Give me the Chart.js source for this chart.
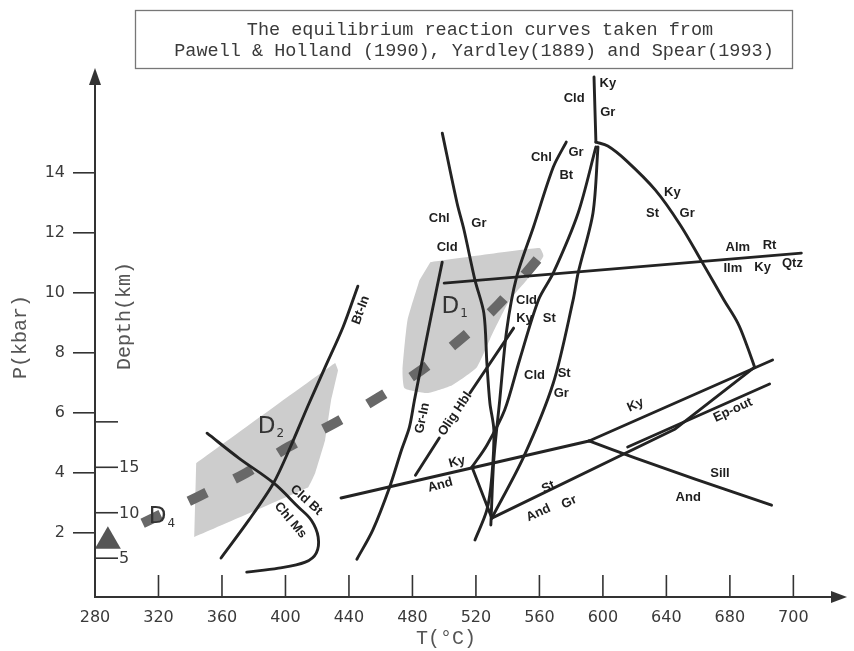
<!DOCTYPE html>
<html>
<head>
<meta charset="utf-8">
<script src="https://cdn.jsdelivr.net/npm/chart.js@4.4.1/dist/chart.umd.min.js"></script>
<style>
html,body{margin:0;padding:0;background:#fff;}
#wrap{width:854px;height:651px;}
</style>
</head>
<body>
<div id="wrap"><canvas id="c" width="854" height="651"></canvas></div>
<script>
// ---------- axis ticks ----------
const xTickValues = [280,320,360,400,440,480,520,560,600,640,680,720];
const xTickLabels = ['280','320','360','400','440','480','520','560','600','640','680','700'];
const pTicks = [2,4,6,8,10,12,14];
const depthTicks = [5,10,15,20];
const depthTickLabels = ['5','10','15',''];

// ---------- reaction curves (T °C, P kbar) ----------
const btIn       = [[359.4,1.17],[376.9,2.43],[392.5,3.67],[403.1,4.87],[414.4,6.27],[425,7.53],[436.3,8.87],[445.6,10.23]];
const cldBtChlMs = [[350.6,5.33],[370.6,4.5],[392.5,3.67],[408.1,2.87],[416.3,2.43],[420.6,1.87],[419.4,1.33],[412.5,1.03],[395.6,0.83],[375.6,0.7]];
const grIn       = [[445,1.13],[455,2.1],[465.6,3.53],[473.1,4.77],[478.1,5.53],[481.25,6.43],[485,7.43],[491.9,9.27],[498.75,11.03]];
const chlGrCld   = [[498.8,15.33],[508.1,13.0],[512.5,12.1],[519.4,10.43],[525,9.33],[526.9,7.67],[528.8,6.33],[531.3,5.43],[530,3.87],[526.9,2.77],[519.4,1.77]];
const chlGrBt    = [[576.9,15.03],[568.75,14.2],[556.25,12.2],[545.6,10.53],[539.4,8.77],[535,6.43],[531.25,4.43],[529.4,2.27]];
const cldKySt    = [[595.6,14.87],[584.4,12.67],[568.75,10.67],[559.4,9.77],[547.5,7.77],[538.1,6.1],[526.9,4.93],[517.5,4.2]];
const cldAndSt   = [[517.5,4.2],[530,2.5]];
const cldStGr    = [[596.9,14.87],[593.75,12.67],[584.4,10.67],[581.25,9.77],[568.75,7.0],[550,4.53],[530,2.5]];
const kyCldGr    = [[594.4,17.2],[595,16.1],[595.6,15.03]];
const kyStGr     = [[595.6,15.03],[603.1,14.9],[614.4,14.43],[633.1,13.43],[648.75,12.27],[662.5,11.03],[676.25,9.77],[685,9.0],[690.6,8.27],[695.6,7.53]];
const grail      = [[500,10.33],[725,11.33]];
const kyAnd      = [[435,3.17],[591.25,5.07]];
const kySill     = [[591.25,5.07],[706.9,7.77]];
const andSill    = [[591.25,5.07],[620.6,4.5],[658.1,3.8],[706.25,2.93]];
const stAndGr    = [[530,2.5],[645.6,5.47],[695.6,7.53]];
const epOut      = [[615.6,4.87],[705,6.97]];
const oligHblA   = [[481.9,3.93],[496.9,5.17]];
const oligHblB   = [[516.25,6.67],[543.75,8.83]];

// ---------- shaded deformation fields ----------
const d1Field = [[491.25,11.03],[560,11.5],[562.5,11.23],[551.9,10.43],[541.25,9.77],[530,8.6],[520.6,7.53],[505,6.93],[489.4,6.67],[475,6.83],[473.75,7.43],[476.9,9.1],[484.4,10.43]];
const d2Field = [[343.75,4.33],[431.25,7.67],[433.1,7.43],[428.75,6.43],[425,5.1],[418.75,4.0],[414.4,3.53],[342.5,1.87]];

// ---------- P-T path and start point ----------
const ptPath = [[310,2.33],[345.6,3.23],[375,4.0],[401.9,4.87],[431.25,5.67],[458.1,6.5],[485.6,7.43],[511.25,8.5],[534.4,9.63],[561.25,11.27]];
const startPoint = [[288.1,1.73]];

// ---------- text labels (text, T, P, rotation deg) ----------
const labelText = ['Ky','Cld','Gr','Chl','Gr','Bt','Ky','St','Gr','Alm','Rt','Ilm','Ky','Qtz','Chl','Gr','Cld','Cld','Ky','St','Cld','St','Gr','Olig Hbl','Ky','And','St','And','Gr','Ky','Ep-out','Sill','And','Bt-In','Gr-In','Cld Bt','Chl Ms'];
const labelT    = [603.1,581.9,603.1,561.25,583.1,576.9,643.75,631.25,653.1,685,705,681.9,700.6,719.4,496.9,521.9,501.9,551.9,550.6,566.25,556.9,575.6,573.75,506.9,508.1,497.5,565.6,559.4,578.75,620.6,681.9,673.75,653.75,447.5,486.25,413.1,403.1];
const labelP    = [17.0,16.5,16.03,14.53,14.67,13.93,13.37,12.67,12.67,11.53,11.6,10.83,10.87,11.0,12.5,12.33,11.53,9.77,9.17,9.17,7.27,7.33,6.67,5.97,4.37,3.6,3.53,2.67,3.03,6.27,6.1,4.0,3.2,9.43,5.83,3.1,2.43];
const labelRot  = [0,0,0,0,0,0,0,0,0,0,0,0,0,0,0,0,0,0,0,0,0,0,0,-56,-15,-15,-25,-25,-25,-25,-25,0,0,-70,-78,42,50];

const fieldNames = ['D','D','D'];
const fieldSubs  = ['1','2','4'];
const fieldT     = [506.9,391.25,322.5];
const fieldP     = [9.53,5.53,2.53];

const titleLines = ['The equilibrium reaction curves taken from','Pawell & Holland (1990), Yardley(1889) and Spear(1993)'];

// ---------- build datasets ----------
const LINE = '#232323';
const pts = a => a.map(([x,y]) => ({x, y}));
function curve(arr, tension){
  return {data: pts(arr), showLine:true, pointRadius:0, borderColor:LINE, borderWidth:2.9,
          tension: tension||0, fill:false, order:1, clip:false, borderCapStyle:'round', borderJoinStyle:'round'};
}
const datasets = [
  {data: pts(d1Field), showLine:true, pointRadius:0, borderWidth:0, borderColor:'rgba(0,0,0,0)', backgroundColor:'#cdcdcd', fill:'shape', tension:0.15, order:10},
  {data: pts(d2Field), showLine:true, pointRadius:0, borderWidth:0, borderColor:'rgba(0,0,0,0)', backgroundColor:'#cdcdcd', fill:'shape', tension:0.05, order:10},
  {data: pts(ptPath), showLine:true, pointRadius:0, borderColor:'#686868', borderWidth:10, borderDash:[20,31], borderCapStyle:'butt', tension:0.3, fill:false, order:5},
  curve(btIn,0.3), curve(cldBtChlMs,0.35), curve(grIn,0.3), curve(chlGrCld,0.3), curve(chlGrBt,0.3),
  curve(cldKySt,0.3), curve(cldAndSt), curve(cldStGr,0.3), curve(kyCldGr,0.2), curve(kyStGr,0.35),
  curve(grail), curve(kyAnd), curve(kySill), curve(andSill,0.3), curve(stAndGr), curve(epOut),
  curve(oligHblA), curve(oligHblB),
  {data: pts(startPoint), showLine:false, pointStyle:'triangle', pointRadius:15, pointBackgroundColor:'#555', pointBorderColor:'#555', pointBorderWidth:0, order:0, clip:false}
];

const deco = {
  id:'deco',
  afterDatasetsDraw(chart){
    const ctx = chart.ctx, xs = chart.scales.x, ys = chart.scales.y;
    ctx.save();
    ctx.fillStyle = '#1e1e1e';
    ctx.textAlign = 'center'; ctx.textBaseline = 'middle';
    ctx.font = 'bold 13px "Liberation Sans", Arial, sans-serif';
    for (let i=0;i<labelText.length;i++){
      const px = xs.getPixelForValue(labelT[i]), py = ys.getPixelForValue(labelP[i]);
      ctx.save(); ctx.translate(px,py); ctx.rotate(labelRot[i]*Math.PI/180);
      ctx.fillText(labelText[i],0,0); ctx.restore();
    }
    for (let i=0;i<fieldNames.length;i++){
      const px = xs.getPixelForValue(fieldT[i]), py = ys.getPixelForValue(fieldP[i]);
      ctx.fillStyle = '#333';
      ctx.font = '23px "DejaVu Sans", sans-serif';
      ctx.textAlign = 'right';
      ctx.fillText(fieldNames[i], px+4, py);
      ctx.font = '12px "DejaVu Sans", sans-serif';
      ctx.textAlign = 'left';
      ctx.fillText(fieldSubs[i], px+5, py+7);
    }
    ctx.restore();
  },
  afterDraw(chart){
    const ctx = chart.ctx, xs = chart.scales.x, ys = chart.scales.y, ds = chart.scales.depth;
    const a = chart.chartArea;
    ctx.save();
    ctx.strokeStyle = '#333'; ctx.fillStyle = '#333'; ctx.lineWidth = 2;
    const x0 = xs.getPixelForValue(280);
    const yb = a.bottom;
    // axes
    ctx.beginPath(); ctx.moveTo(x0, yb+1); ctx.lineTo(x0, a.top+12); ctx.stroke();
    ctx.beginPath(); ctx.moveTo(x0, a.top-3); ctx.lineTo(x0-6, a.top+14); ctx.lineTo(x0+6, a.top+14); ctx.closePath(); ctx.fill();
    ctx.beginPath(); ctx.moveTo(x0-1, yb); ctx.lineTo(a.right-2, yb); ctx.stroke();
    ctx.beginPath(); ctx.moveTo(a.right+8, yb); ctx.lineTo(a.right-8, yb-6); ctx.lineTo(a.right-8, yb+6); ctx.closePath(); ctx.fill();
    // x tick marks inward
    ctx.lineWidth = 1.6;
    xTickValues.forEach((v,i)=>{ if(i===0) return; const px = xs.getPixelForValue(v);
      ctx.beginPath(); ctx.moveTo(px, yb); ctx.lineTo(px, yb-22); ctx.stroke(); });
    // depth ticks
    ctx.font = '16px "DejaVu Sans", sans-serif'; ctx.textAlign='left'; ctx.textBaseline='middle';
    ctx.fillStyle = '#3a3a3a';
    depthTicks.forEach((d,i)=>{ const py = ds.getPixelForValue(d);
      ctx.beginPath(); ctx.moveTo(x0, py); ctx.lineTo(x0+23, py); ctx.stroke();
      if (depthTickLabels[i]) ctx.fillText(depthTickLabels[i], x0+24, py+1); });
    // axis titles
    ctx.fillStyle = '#555';
    ctx.font = '20px "Liberation Mono", "Courier New", monospace';
    ctx.textAlign = 'center';
    ctx.save(); ctx.translate(21, 337); ctx.rotate(-Math.PI/2); ctx.fillText('P(kbar)',0,0); ctx.restore();
    ctx.save(); ctx.translate(125, 316); ctx.rotate(-Math.PI/2); ctx.fillText('Depth(km)',0,0); ctx.restore();
    ctx.fillText('T(\u00b0C)', 446, 639);
    // title box
    ctx.strokeStyle = '#777'; ctx.lineWidth = 1.3;
    ctx.strokeRect(135.5, 10.5, 657, 58);
    ctx.fillStyle = '#3a3a3a';
    ctx.font = '18.5px "Liberation Mono", "Courier New", monospace';
    ctx.fillText(titleLines[0], 480, 30);
    ctx.fillText(titleLines[1], 474, 51);
    ctx.restore();
  }
};

new Chart(document.getElementById('c'), {
  type:'scatter',
  data:{datasets},
  options:{
    responsive:false, animation:false, devicePixelRatio:1,
    layout:{padding:{left:0, right:9, top:71, bottom:0}},
    plugins:{legend:{display:false}, tooltip:{enabled:false}},
    scales:{
      x:{type:'linear', position:'bottom', min:280, max:748.75,
         afterBuildTicks(s){ s.ticks = xTickValues.map(v=>({value:v})); },
         afterFit(s){ s.height = 54; },
         grid:{display:false, drawTicks:false}, border:{display:false},
         ticks:{autoSkip:false, maxRotation:0, padding:11, color:'#3a3a3a',
                font:{family:'"DejaVu Sans", sans-serif', size:16},
                callback:(v,i)=>xTickLabels[i]}},
      y:{type:'linear', position:'left', min:-0.13, max:17.4,
         afterBuildTicks(s){ s.ticks = pTicks.map(v=>({value:v})); },
         afterFit(s){ s.width = 95; },
         grid:{display:true, drawOnChartArea:false, drawTicks:true, tickLength:22, color:'#333', lineWidth:1.6},
         border:{display:false},
         ticks:{padding:8, color:'#3a3a3a', font:{family:'"DejaVu Sans", sans-serif', size:16},
                callback:(v)=>String(v)}},
      depth:{type:'linear', position:'left', display:false, min:0.73, max:58.6}
    }
  },
  plugins:[deco]
});
</script>
</body>
</html>
